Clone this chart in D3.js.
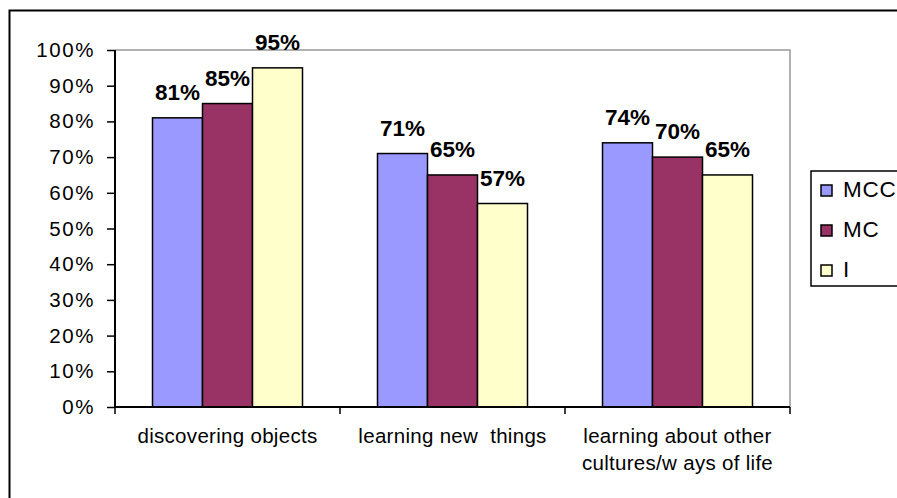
<!DOCTYPE html>
<html>
<head>
<meta charset="utf-8">
<script src="https://cdn.jsdelivr.net/npm/d3@7"></script>
<style>
  html, body { margin: 0; padding: 0; background: #fff; }
  svg { display: block; font-family: "Liberation Sans", Arial, sans-serif; }
</style>
</head>
<body>
<svg id="chart" width="897" height="498"></svg>
<script>
const categories = [["discovering objects"], ["learning new  things"], ["learning about other", "cultures/w ays of life"]];
const categoryKeys = ["discovering objects", "learning new things", "learning about other cultures/ways of life"];
const seriesNames = ["MCC", "MC", "I"];
const seriesColors = ["#9999FF", "#993366", "#FFFFCC"];
const valuesMCC = [81, 71, 74];
const valuesMC = [85, 65, 70];
const valuesI = [95, 57, 65];
const yTicks = [0, 10, 20, 30, 40, 50, 60, 70, 80, 90, 100];

const seriesValues = [valuesMCC, valuesMC, valuesI];

const svg = d3.select("#chart");
const pLeft = 115, pRight = 790, pTop = 50, pBottom = 407;

// outer frame
svg.append("rect").attr("x", 9.5).attr("y", 10.5).attr("width", 1000).attr("height", 1000)
  .attr("fill", "none").attr("stroke", "#000").attr("stroke-width", 2);

const x0 = d3.scaleBand().domain(categoryKeys).range([pLeft, pRight]).paddingInner(0).paddingOuter(0);
const x1 = d3.scaleBand().domain(seriesNames).range([0, x0.bandwidth()]).paddingInner(0).paddingOuter(0.75);
const y = d3.scaleLinear().domain([0, 100]).range([pBottom, pTop]);

// plot area border (gray top & right)
svg.append("path")
  .attr("d", `M${pLeft},${pTop}H${pRight}V${pBottom}`)
  .attr("fill", "none").attr("stroke", "#999").attr("stroke-width", 1.5);

// bars
const groups = svg.append("g").selectAll("g").data(categoryKeys).join("g")
  .attr("transform", d => `translate(${x0(d)},0)`);

groups.each(function(cat, ci) {
  const g = d3.select(this);
  seriesNames.forEach((s, si) => {
    const v = seriesValues[si][ci];
    g.append("rect")
      .attr("x", x1(s)).attr("y", y(v))
      .attr("width", x1.bandwidth()).attr("height", y(0) - y(v))
      .attr("fill", seriesColors[si]).attr("stroke", "#000").attr("stroke-width", 1.5);
    g.append("text")
      .attr("x", x1(s) + x1.bandwidth() / 2).attr("y", y(v) - 18)
      .attr("text-anchor", "middle").attr("font-weight", "bold").attr("font-size", 22.5)
      .text(v + "%");
  });
});

// y axis
const yAxis = svg.append("g").attr("transform", `translate(${pLeft},0)`)
  .call(d3.axisLeft(y).tickValues(yTicks).tickSize(8).tickPadding(12).tickFormat(d => d + "%"));
yAxis.select(".domain").attr("stroke", "#000").attr("stroke-width", 2).attr("d", `M0,${pTop}V${pBottom}`);
yAxis.selectAll(".tick line").attr("stroke", "#000").attr("stroke-width", 1.5);
yAxis.selectAll(".tick text").attr("font-size", 20.5).attr("letter-spacing", 1.6)
  .attr("font-family", "Liberation Sans, Arial, sans-serif").attr("fill", "#000");

// x axis
const xAxis = svg.append("g").attr("transform", `translate(0,${pBottom})`);
xAxis.append("path").attr("d", `M${pLeft},0H${pRight}`).attr("stroke", "#000").attr("stroke-width", 2);
const tickPos = categoryKeys.map(k => x0(k)).concat([pRight]);
xAxis.selectAll("line.tk").data(tickPos).join("line").attr("class", "tk")
  .attr("x1", d => d).attr("x2", d => d).attr("y1", 0).attr("y2", 7)
  .attr("stroke", "#000").attr("stroke-width", 1.5);
categories.forEach((lines, ci) => {
  const cx = x0(categoryKeys[ci]) + x0.bandwidth() / 2;
  const t = xAxis.append("text").attr("text-anchor", "middle").attr("font-size", 20.5)
    .attr("letter-spacing", 0.3).style("white-space", "pre");
  lines.forEach((ln, li) => {
    t.append("tspan").attr("x", cx).attr("y", 36 + li * 27).text(ln);
  });
});

// legend
const lg = svg.append("g");
lg.append("rect").attr("x", 811).attr("y", 171).attr("width", 200).attr("height", 115)
  .attr("fill", "#fff").attr("stroke", "#000").attr("stroke-width", 1.5);
seriesNames.forEach((s, i) => {
  const yy = 185 + i * 40;
  lg.append("rect").attr("x", 821).attr("y", yy).attr("width", 11).attr("height", 11)
    .attr("fill", seriesColors[i]).attr("stroke", "#000").attr("stroke-width", 1.5);
  lg.append("text").attr("x", 843).attr("y", yy + 12).attr("font-size", 22.5).attr("letter-spacing", 0.8).text(s);
});
</script>
</body>
</html>
